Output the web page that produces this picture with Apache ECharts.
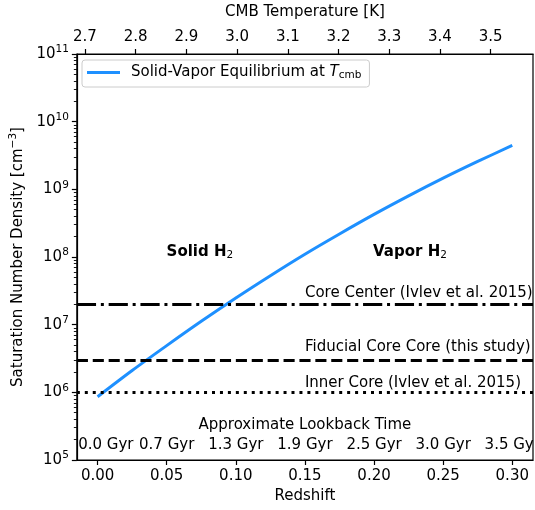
<!DOCTYPE html>
<html><head><meta charset="utf-8">
<script src="https://cdn.jsdelivr.net/npm/echarts@6/dist/echarts.min.js"></script>
<style>html,body{margin:0;padding:0;background:#fff}#c{width:535px;height:510px}</style>
</head><body><div id="c"></div>
<script>
// ---- data ----
const redshift = [0, 0.025, 0.05, 0.075, 0.1, 0.125, 0.15, 0.175, 0.2, 0.225, 0.25, 0.275, 0.3];
const saturationDensity = [8.6e5, 2.1e6, 4.9e6, 1.12e7, 2.48e7, 5.3e7, 1.1e8, 2.19e8, 4.26e8, 8.0e8, 1.46e9, 2.58e9, 4.45e9];
const coreCenterDensity = 2e7;
const fiducialDensity = 3e6;
const innerCoreDensity = 1e6;
const redshiftTicks = [0, 0.05, 0.10, 0.15, 0.20, 0.25, 0.30];
const temperatureTicks = [2.7, 2.8, 2.9, 3.0, 3.1, 3.2, 3.3, 3.4, 3.5];
const densityTicks = [1e5, 1e6, 1e7, 1e8, 1e9, 1e10, 1e11];
const densityMinorTicks = [];
for (let e = 5; e < 11; e++) for (let m = 2; m <= 9; m++) densityMinorTicks.push(m * Math.pow(10, e));
const lookbackZ = [0.006, 0.05, 0.10, 0.15, 0.20, 0.25, 0.30];
const lookbackLabels = ['0.0 Gyr', '0.7 Gyr', '1.3 Gyr', '1.9 Gyr', '2.5 Gyr', '3.0 Gyr', '3.5 Gyr'];
const lookbackY = 1.68e5;
const lookbackTitle = [0.15, 3.3e5, 'Approximate Lookback Time'];
const phaseLabels = [[0.074, 1.17e8, 'Solid'], [0.226, 1.17e8, 'Vapor']];
const lineLabels = [[0.15, 2.95e7, 'Core Center (Ivlev et al. 2015)'],
                    [0.15, 4.7e6, 'Fiducial Core Core (this study)'],
                    [0.15, 1.38e6, 'Inner Core (Ivlev et al. 2015)']];
const T0 = 2.725;
const zMin = -0.015, zMax = 0.315;

const FONT = 'DejaVu Sans';
const chart = echarts.init(document.getElementById('c'), null, {renderer: 'canvas'});
const supRich = {b: {fontSize: 15, fontFamily: FONT, color: '#000'}, s: {fontSize: 10.5, fontFamily: FONT, color: '#000', padding: [0, 0, 9, 0]}};
const spine = {show: true, onZero: false, lineStyle: {color: '#000', width: 1.2}};
const tickStyle = {color: '#000', width: 1.2};
const textMark = {type: 'scatter', xAxisIndex: 0, yAxisIndex: 0, symbolSize: 0, silent: true, itemStyle: {opacity: 1}, emphasis: {disabled: true}};

chart.setOption({
  animation: false,
  textStyle: {fontFamily: FONT},
  grid: {left: 74, right: 2, top: 52, bottom: 50, show: true, borderColor: '#000', borderWidth: 1.2, backgroundColor: 'transparent'},
  legend: {
    data: ['Solid-Vapor Equilibrium'], left: 82, top: 60,
    icon: 'rect', itemWidth: 33, itemHeight: 3,
    padding: [5, 8, 6, 5],
    backgroundColor: 'rgba(255,255,255,0.8)', borderColor: '#cccccc', borderWidth: 1, borderRadius: 3,
    formatter: () => '{n|Solid-Vapor Equilibrium at }{i|T}{s|cmb}',
    textStyle: {fontFamily: FONT, fontSize: 15, color: '#000', padding: [0, 0, 0, 6],
      rich: {n: {fontSize: 15, fontFamily: FONT, color: '#000'}, i: {fontSize: 15, fontFamily: FONT, fontStyle: 'italic', color: '#000'},
             s: {fontSize: 10.5, fontFamily: FONT, color: '#000', padding: [6, 0, 0, 0]}}}
  },
  xAxis: [{
    type: 'value', min: zMin, max: zMax, position: 'bottom',
    name: 'Redshift', nameLocation: 'middle', nameGap: 29,
    nameTextStyle: {fontFamily: FONT, fontSize: 15, color: '#000'},
    axisLine: spine, splitLine: {show: false},
    axisTick: {show: true, customValues: redshiftTicks, length: 5, lineStyle: tickStyle},
    axisLabel: {customValues: redshiftTicks, margin: 9, fontFamily: FONT, fontSize: 15, color: '#000', formatter: v => v.toFixed(2)}
  }, {
    type: 'value', min: T0 * (1 + zMin), max: T0 * (1 + zMax), position: 'top',
    name: 'CMB Temperature [K]', nameLocation: 'middle', nameGap: 34,
    nameTextStyle: {fontFamily: FONT, fontSize: 15, color: '#000'},
    axisLine: spine, splitLine: {show: false},
    axisTick: {show: true, customValues: temperatureTicks, length: 5, lineStyle: tickStyle},
    axisLabel: {customValues: temperatureTicks, margin: 9, fontFamily: FONT, fontSize: 15, color: '#000', formatter: v => v.toFixed(1)}
  }],
  yAxis: [{
    type: 'log', logBase: 10, min: 1e5, max: 1e11, position: 'left',
    name: '{a|Saturation Number Density [cm}{s|−3}{a|]}', nameLocation: 'middle', nameGap: 48, nameRotate: 90,
    nameTextStyle: {rich: {a: {fontSize: 15, fontFamily: FONT, color: '#000'}, s: {fontSize: 10.5, fontFamily: FONT, color: '#000', padding: [0, 0, 9, 0]}}},
    axisLine: spine, splitLine: {show: false},
    axisTick: {show: true, customValues: densityTicks, length: 5, lineStyle: tickStyle},
    axisLabel: {customValues: densityTicks, margin: 8, rich: supRich,
      formatter: v => '{b|10}{s|' + Math.round(Math.log10(v)) + '}'}
  }, {
    type: 'log', logBase: 10, min: 1e5, max: 1e11, position: 'left',
    axisLine: {show: false, onZero: false}, splitLine: {show: false}, axisLabel: {show: false},
    axisTick: {show: true, customValues: densityMinorTicks, length: 3, lineStyle: {color: '#000', width: 0.9}}
  }],
  series: [{
    name: 'Solid-Vapor Equilibrium', type: 'line', xAxisIndex: 0, yAxisIndex: 0,
    data: redshift.map((z, i) => [z, saturationDensity[i]]),
    showSymbol: false, symbol: 'none', smooth: 0.3, z: 3,
    lineStyle: {color: '#1E90FF', width: 3}, itemStyle: {color: '#1E90FF'},
    markLine: {
      silent: true, symbol: 'none', label: {show: false},
      data: [
        {yAxis: coreCenterDensity, lineStyle: {color: '#000', width: 3, type: [19.2, 4.8, 3, 4.8]}},
        {yAxis: fiducialDensity, lineStyle: {color: '#000', width: 3, type: [11.1, 4.8]}},
        {yAxis: innerCoreDensity, lineStyle: {color: '#000', width: 3, type: [3, 4.95]}}
      ]
    }
  }, Object.assign({}, textMark, {
    data: lookbackZ.map((z, i) => ({value: [z, lookbackY], name: lookbackLabels[i]})).concat([{value: [lookbackTitle[0], lookbackTitle[1]], name: lookbackTitle[2]}]),
    label: {show: true, position: 'inside', formatter: p => p.name, fontFamily: FONT, fontSize: 15, color: '#000'}
  }), Object.assign({}, textMark, {
    data: phaseLabels.map(d => ({value: [d[0], d[1]], name: d[2]})),
    label: {show: true, position: 'inside', formatter: p => '{b|' + p.name + ' H}{s|2}',
      rich: {b: {fontFamily: FONT, fontSize: 15, fontWeight: 'bold', color: '#000'}, s: {fontFamily: FONT, fontSize: 10.5, color: '#000', padding: [6, 0, 0, 0]}}}
  }), Object.assign({}, textMark, {
    data: lineLabels.map(d => ({value: [d[0], d[1]], name: d[2]})),
    label: {show: true, position: 'right', distance: 0, formatter: p => p.name, fontFamily: FONT, fontSize: 15, color: '#000'}
  })]
});
</script></body></html>
